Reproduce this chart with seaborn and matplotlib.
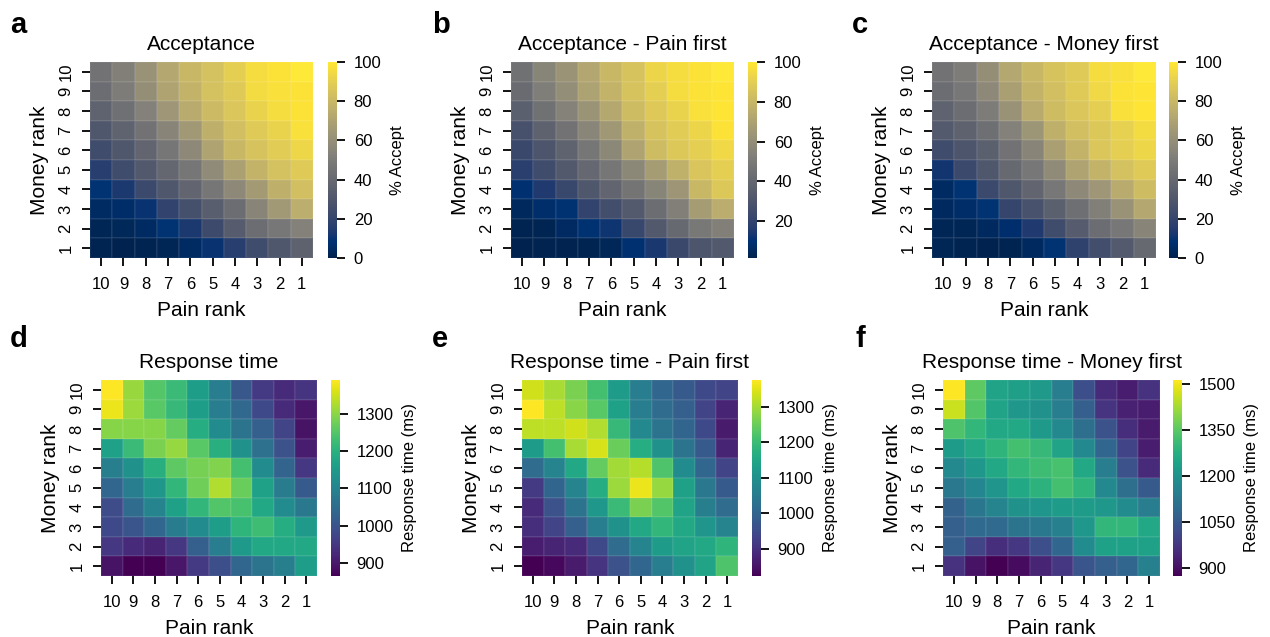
import numpy as np
import pandas as pd
import seaborn as sns
import matplotlib.pyplot as plt

# ranks as shown on the axes (top-left is money 10 / pain 10)
pain_ranks = [10, 9, 8, 7, 6, 5, 4, 3, 2, 1]
money_ranks = [10, 9, 8, 7, 6, 5, 4, 3, 2, 1]

# % accept, rows = money rank 10..1, cols = pain rank 10..1
accept_all = [
    [45, 52, 62, 72, 80, 84, 90, 96, 98, 100],
    [42, 50, 60, 70, 78, 84, 88, 95, 97, 98],
    [37, 44, 53, 64, 74, 81, 86, 92, 96, 98],
    [30, 37, 45, 55, 65, 76, 83, 88, 92, 97],
    [24, 30, 38, 47, 57, 70, 80, 85, 89, 93],
    [16, 24, 31, 39, 47, 58, 69, 78, 84, 88],
    [9, 13, 22, 30, 38, 47, 57, 66, 76, 83],
    [5, 6, 10, 19, 26, 34, 42, 55, 65, 75],
    [2, 3, 5, 9, 13, 23, 33, 42, 48, 53],
    [1, 0, 1, 2, 5, 10, 16, 24, 30, 36],
]
accept_pain_first = [
    [45, 55, 63, 72, 80, 85, 93, 96, 98, 100],
    [42, 52, 60, 70, 78, 85, 90, 96, 98, 99],
    [36, 45, 54, 63, 73, 82, 88, 92, 97, 99],
    [28, 37, 46, 56, 65, 77, 85, 89, 93, 98],
    [23, 30, 38, 48, 57, 71, 82, 87, 90, 94],
    [18, 25, 32, 40, 48, 57, 67, 77, 86, 90],
    [9, 15, 22, 31, 39, 47, 55, 64, 80, 87],
    [5, 8, 10, 20, 26, 33, 43, 53, 67, 75],
    [2.5, 3, 6, 10, 12, 22, 32, 41, 49, 53],
    [1.5, 2, 2, 2.5, 4, 9, 14, 23, 30, 32],
]
accept_money_first = [
    [45, 50, 60, 72, 80, 85, 88, 96, 97, 100],
    [42, 48, 57, 68, 78, 83, 88, 94, 98, 99],
    [37, 42, 50, 62, 74, 82, 86, 90, 97, 99],
    [32, 36, 43, 53, 63, 76, 83, 87, 91, 95],
    [24, 29, 35, 45, 55, 68, 78, 86, 90, 93],
    [11, 22, 30, 40, 48, 58, 70, 78, 84, 88],
    [5, 9, 22, 30, 38, 48, 57, 64, 74, 82],
    [4, 6, 9, 20, 27, 35, 43, 52, 62, 72],
    [2, 2, 4, 7, 14, 24, 33, 42, 48, 55],
    [2, 1, 0, 1, 4, 9, 18, 25, 32, 40],
]

# response time (ms)
rt_all = [
    [1391, 1310, 1250, 1222, 1155, 1086, 1007, 955, 928, 944],
    [1375, 1312, 1255, 1217, 1155, 1086, 1040, 981, 928, 897],
    [1296, 1296, 1296, 1265, 1191, 1117, 1065, 1023, 970, 891],
    [1165, 1222, 1286, 1307, 1255, 1196, 1128, 1060, 997, 907],
    [1091, 1128, 1196, 1260, 1281, 1291, 1233, 1117, 1033, 949],
    [1039, 1086, 1144, 1212, 1275, 1328, 1270, 1165, 1081, 1012],
    [986, 1049, 1102, 1165, 1212, 1249, 1238, 1181, 1117, 1075],
    [981, 1002, 1039, 1081, 1117, 1155, 1207, 1228, 1191, 1149],
    [949, 928, 918, 949, 1023, 1086, 1149, 1181, 1181, 1181],
    [891, 866, 865, 897, 955, 991, 1039, 1065, 1091, 1155],
]
rt_pain_first = [
    [1336, 1303, 1265, 1209, 1127, 1055, 1005, 978, 944, 933],
    [1375, 1320, 1276, 1231, 1138, 1055, 1016, 989, 933, 878],
    [1320, 1320, 1336, 1309, 1193, 1082, 1033, 1000, 944, 862],
    [1127, 1209, 1303, 1342, 1248, 1165, 1099, 1033, 978, 878],
    [1016, 1071, 1154, 1242, 1298, 1314, 1220, 1088, 1005, 933],
    [917, 1000, 1071, 1165, 1292, 1358, 1287, 1138, 1044, 978],
    [889, 961, 1033, 1116, 1198, 1265, 1226, 1143, 1060, 1016],
    [895, 933, 989, 1055, 1099, 1154, 1187, 1154, 1110, 1071],
    [867, 878, 889, 944, 1016, 1071, 1127, 1143, 1154, 1182],
    [823, 834, 862, 906, 961, 1005, 1055, 1099, 1143, 1220],
]
rt_money_first = [
    [1513, 1353, 1244, 1231, 1219, 1142, 1027, 950, 924, 963],
    [1462, 1340, 1244, 1212, 1193, 1142, 1065, 969, 931, 924],
    [1334, 1295, 1257, 1257, 1219, 1174, 1103, 1033, 956, 918],
    [1225, 1257, 1289, 1321, 1302, 1244, 1174, 1084, 1001, 924],
    [1174, 1212, 1257, 1295, 1315, 1327, 1257, 1142, 1033, 950],
    [1129, 1167, 1206, 1257, 1283, 1321, 1289, 1174, 1103, 1052],
    [1071, 1123, 1161, 1193, 1206, 1225, 1225, 1212, 1180, 1142],
    [1065, 1091, 1091, 1116, 1129, 1148, 1212, 1295, 1295, 1257],
    [1065, 1001, 956, 975, 1027, 1084, 1180, 1238, 1238, 1238],
    [963, 905, 873, 892, 937, 975, 1039, 1065, 1084, 1148],
]

accept_ticks = [0, 20, 40, 60, 80, 100]
rt_ticks = [900, 1000, 1100, 1200, 1300]
rt_ticks_money = [900, 1050, 1200, 1350, 1500]

sns.set_theme(style="ticks")
plt.rcParams['font.family'] = ['Liberation Sans', 'DejaVu Sans']
plt.rcParams['text.color'] = 'black'
plt.rcParams['axes.labelcolor'] = 'black'
plt.rcParams['xtick.color'] = 'black'
plt.rcParams['ytick.color'] = 'black'

W, H = 1270, 637
fig = plt.figure(figsize=(W / 100, H / 100), dpi=100)


def px_box(x0, y0, x1, y1):
    return [x0 / W, 1 - y1 / H, (x1 - x0) / W, (y1 - y0) / H]


panels = [
    ("a", "Acceptance", accept_all, "cividis", "% Accept", accept_ticks,
     (90, 62, 313, 258), (328, 337), (10, 33)),
    ("b", "Acceptance - Pain first", accept_pain_first, "cividis", "% Accept", accept_ticks,
     (511, 62, 734, 258), (748, 757), (432, 33)),
    ("c", "Acceptance - Money first", accept_money_first, "cividis", "% Accept", accept_ticks,
     (932, 62, 1156, 258), (1169, 1178), (852, 33)),
    ("d", "Response time", rt_all, "viridis", "Response time (ms)", rt_ticks,
     (101, 380, 317, 576), (331, 340), (10, 347)),
    ("e", "Response time - Pain first", rt_pain_first, "viridis", "Response time (ms)", rt_ticks,
     (522, 380, 738, 576), (752, 761), (432, 347)),
    ("f", "Response time - Money first", rt_money_first, "viridis", "Response time (ms)", rt_ticks_money,
     (943, 380, 1160, 576), (1173, 1182), (855, 347)),
]

for letter, title, values, cmap, clabel, cticks, hbox, cbx, lpos in panels:
    df = pd.DataFrame(values, index=money_ranks, columns=pain_ranks)
    ax = fig.add_axes(px_box(*hbox))
    cax = fig.add_axes(px_box(cbx[0], hbox[1], cbx[1], hbox[3]))
    sns.heatmap(df, ax=ax, cbar_ax=cax, cmap=cmap,
                linewidths=0.2, linecolor=(1, 1, 1, 0.06),
                cbar_kws={"ticks": cticks})
    ax.set_title(title, fontsize=15, pad=9)
    ax.set_xlabel("Pain rank", fontsize=15, labelpad=6)
    ax.set_ylabel("Money rank", fontsize=15, labelpad=7)
    ax.set_yticklabels(money_ranks, rotation=90, va="center")
    ax.set_xticklabels(pain_ranks, rotation=0)
    ax.tick_params(axis="both", labelsize=12, length=6, width=1.3)
    ax.tick_params(axis="x", pad=8)
    ax.tick_params(axis="y", pad=6)
    cax.tick_params(labelsize=12, length=6, width=1.3, pad=6)
    cax.set_ylabel(clabel, fontsize=12, labelpad=6)
    fig.text(lpos[0] / W, 1 - lpos[1] / H, letter, fontsize=21,
             fontweight="bold", va="baseline", ha="left")

fig.savefig("out.png", dpi=100)
